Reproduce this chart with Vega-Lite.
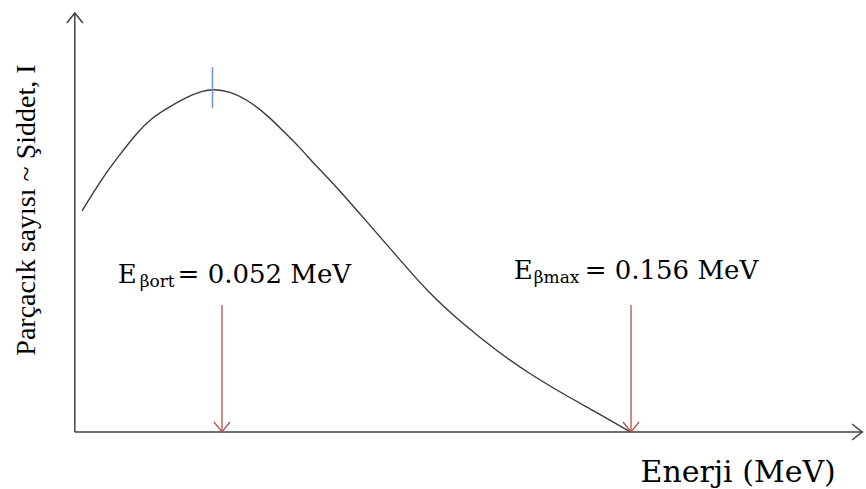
{
  "$schema": "https://vega.github.io/schema/vega-lite/v6.json",
  "width": 866,
  "height": 489,
  "padding": 0,
  "autosize": {"type": "fit", "contains": "padding"},
  "config": {"view": {"stroke": null}},
  "background": "white",
  "datasets": {
    "curve": [
      {"energy": 2.04, "intensity": 0.645},
      {"energy": 7.84, "intensity": 0.743},
      {"energy": 12.60, "intensity": 0.808},
      {"energy": 17.36, "intensity": 0.872},
      {"energy": 21.85, "intensity": 0.918},
      {"energy": 26.61, "intensity": 0.948},
      {"energy": 31.37, "intensity": 0.977},
      {"energy": 35.85, "intensity": 0.994},
      {"energy": 38.65, "intensity": 1.0},
      {"energy": 43.41, "intensity": 0.994},
      {"energy": 49.01, "intensity": 0.965},
      {"energy": 54.61, "intensity": 0.918},
      {"energy": 58.26, "intensity": 0.880},
      {"energy": 63.02, "intensity": 0.831},
      {"energy": 67.78, "intensity": 0.775},
      {"energy": 72.82, "intensity": 0.722},
      {"energy": 80.74, "intensity": 0.628},
      {"energy": 90.10, "intensity": 0.516},
      {"energy": 99.43, "intensity": 0.404},
      {"energy": 108.75, "intensity": 0.317},
      {"energy": 118.11, "intensity": 0.239},
      {"energy": 127.43, "intensity": 0.171},
      {"energy": 136.76, "intensity": 0.113},
      {"energy": 146.11, "intensity": 0.059},
      {"energy": 156.0, "intensity": 0.0}
    ],
    "axes": [
      {"energy": 0, "intensity": 0, "energy2": 0, "intensity2": 1.2216},
      {"energy": 0, "intensity": 0, "energy2": 221.3, "intensity2": 0}
    ],
    "arrows": [
      {"energy": 41.31, "intensity": 0.37, "intensity2": 0},
      {"energy": 156.14, "intensity": 0.37, "intensity2": 0}
    ],
    "peak": [
      {"energy": 38.65, "intensity": 1.064, "intensity2": 0.945}
    ],
    "mainText": [
      {"energy": 12.04, "intensity": 0.434, "label": "E"},
      {"energy": 28.85, "intensity": 0.434, "label": "= 0.052 MeV"},
      {"energy": 123.23, "intensity": 0.446, "label": "E"},
      {"energy": 143.12, "intensity": 0.446, "label": "= 0.156 MeV"}
    ],
    "subText": [
      {"energy": 18.2, "intensity": 0.423, "label": "βort"},
      {"energy": 128.83, "intensity": 0.434, "label": "βmax"}
    ],
    "xTitle": [
      {"energy": 158.8, "intensity": -0.146, "label": "Enerji (MeV)"}
    ],
    "yTitle": [
      {"energy": -11.2, "intensity": 0.647, "label": "Parçacık sayısı ~ Şiddet, I"}
    ],
    "upHead": [{"energy": 0, "intensity": 1.2216}],
    "rightHead": [{"energy": 221.0, "intensity": 0}],
    "downHeads": [{"energy": 41.31, "intensity": 0}, {"energy": 156.14, "intensity": 0}]
  },
  "encoding": {
    "x": {"field": "energy", "type": "quantitative", "axis": null,
          "scale": {"domain": [-21.005, 221.54], "nice": false, "zero": false}},
    "y": {"field": "intensity", "type": "quantitative", "axis": null,
          "scale": {"domain": [-0.16618, 1.25948], "nice": false, "zero": false}}
  },
  "layer": [
    {
      "data": {"name": "axes"},
      "mark": {"type": "rule", "color": "#3f3f3f", "strokeWidth": 1.5},
      "encoding": {"x2": {"field": "energy2"}, "y2": {"field": "intensity2"}}
    },
    {
      "data": {"name": "upHead"},
      "mark": {"type": "point", "shape": "M-1.6,2L0,0L1.6,2", "filled": false, "size": 100, "stroke": "#3f3f3f", "strokeWidth": 1.5, "opacity": 1}
    },
    {
      "data": {"name": "rightHead"},
      "mark": {"type": "point", "shape": "M-2,-1.6L0,0L-2,1.6", "filled": false, "size": 100, "stroke": "#3f3f3f", "strokeWidth": 1.5, "opacity": 1}
    },
    {
      "data": {"name": "curve"},
      "mark": {"type": "line", "color": "#3a3a3a", "strokeWidth": 1.4, "interpolate": "basis"}
    },
    {
      "data": {"name": "peak"},
      "mark": {"type": "rule", "color": "#6f9bd1", "strokeWidth": 1.6},
      "encoding": {"y2": {"field": "intensity2"}}
    },
    {
      "data": {"name": "arrows"},
      "mark": {"type": "rule", "color": "#b5504d", "strokeWidth": 1.3},
      "encoding": {"y2": {"field": "intensity2"}}
    },
    {
      "data": {"name": "downHeads"},
      "mark": {"type": "point", "shape": "M-1.6,-2L0,0L1.6,-2", "filled": false, "size": 100, "stroke": "#b5504d", "strokeWidth": 1.3, "opacity": 1}
    },
    {
      "data": {"name": "mainText"},
      "mark": {"type": "text", "font": "DejaVu Serif", "fontSize": 26, "align": "left", "baseline": "alphabetic", "color": "#000000"},
      "encoding": {"text": {"field": "label"}}
    },
    {
      "data": {"name": "subText"},
      "mark": {"type": "text", "font": "DejaVu Serif", "fontSize": 17, "align": "left", "baseline": "alphabetic", "color": "#000000"},
      "encoding": {"text": {"field": "label"}}
    },
    {
      "data": {"name": "xTitle"},
      "mark": {"type": "text", "font": "DejaVu Serif", "fontSize": 30, "align": "left", "baseline": "alphabetic", "color": "#000000"},
      "encoding": {"text": {"field": "label"}}
    },
    {
      "data": {"name": "yTitle"},
      "mark": {"type": "text", "font": "Liberation Serif", "fontSize": 28, "align": "center", "baseline": "alphabetic", "angle": 270, "color": "#000000"},
      "encoding": {"text": {"field": "label"}}
    }
  ]
}
